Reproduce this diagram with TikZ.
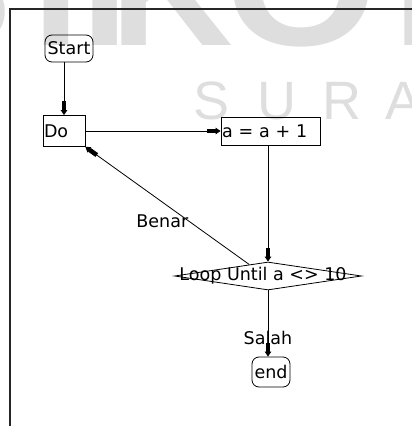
\documentclass[tikz,border=0pt]{standalone}
\usepackage{fontspec}
\setmainfont{DejaVu Sans}
\newfontfamily\wmfont{Liberation Sans}
\usetikzlibrary{arrows.meta,calc,shapes.geometric}
\tikzset{
  >={Rectangle[length=9pt,width=4.5pt]Triangle[length=5pt,width=6.5pt]},
  fcfont/.style={font=\fontsize{17.5}{20}\selectfont},
  fcterm/.style={draw,rounded corners=7pt,line width=0.8pt,inner sep=0pt,fcfont},
  fcbox/.style={draw,line width=0.8pt,inner xsep=1pt,inner ysep=0pt,align=left,fcfont},
  fcdec/.style={draw,diamond,line width=0.8pt,inner sep=0pt,fcfont},
  fcflow/.style={->,line width=0.8pt},
  fclbl/.style={inner sep=0pt,fcfont},
  frameln/.style={line width=2pt,black!85},
  wmbig/.style={black!13,inner sep=0pt,anchor=base,
    font=\wmfont\bfseries\fontsize{170}{170}\selectfont},
  wmsmall/.style={black!13,inner sep=0pt,anchor=base,
    font=\wmfont\fontsize{54}{54}\selectfont},
}

\begin{document}
\begin{tikzpicture}[x=1pt,y=-1pt]
  \useasboundingbox (0,0) rectangle (412,426);
  % watermark behind the chart
  \begin{scope}
    \clip (0,0) rectangle (412,426);
    \node[wmbig] (wmS) at (-45,45) {S};
    \node[wmbig] (wmT) at (56,45) {T};
    \node[wmbig] (wmI) at (105,45) {I};
    \node[wmbig] (wmK) at (172,45) {K};
    \node[wmbig] (wmO) at (302,45) {\scalebox{1.15}[1]{O}};
    \node[wmbig] (wmM) at (464,45) {M};
    \foreach \ch/\x in {S/212,U/277,R/342,A/404}
      \node[wmsmall] (wms\ch) at (\x,119) {\ch};
  \end{scope}
  \draw[frameln] (412,9) -- (10,9) -- (10,426);

  \node[fcterm,minimum width=48pt,minimum height=27pt] (start) at (69,48.5) {Start};
  \node[fcbox,text width=40pt,minimum height=31pt] (do) at (64,131) {Do};
  \node[fcbox,text width=97pt,minimum height=28pt] (incr) at (270.5,131) {a = a + 1};
  \node[fcdec,minimum width=187pt,minimum height=28pt] (cond) at (268,276)
    {\makebox[0pt]{Loop Until a <> 10\hspace{10pt}}};
  \node[fcterm,minimum width=38pt,minimum height=30pt] (endn) at (271,372) {end};

  \draw[fcflow] (start.south -| do.north) -- (do.north);
  \draw[fcflow] (do.east) -- (incr.west);
  \draw[fcflow] (incr.south -| cond.north) -- (cond.north);
  \draw[fcflow] ($(cond.north)!0.2!(cond.west)$) --
    node[fclbl,pos=0.37,anchor=east] (benar) {Benar} (do.south east);
  \draw[fcflow] (cond.south) --
    node[fclbl,pos=0.72] (salah) {Salah} (cond.south |- endn.north);
\end{tikzpicture}
\end{document}
